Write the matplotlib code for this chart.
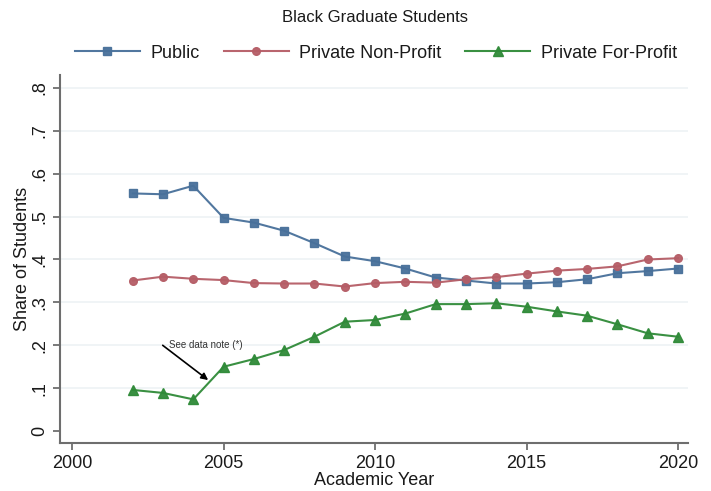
import matplotlib
matplotlib.use("Agg")
import matplotlib.pyplot as plt

plt.rcParams['font.family'] = ['Liberation Sans', 'DejaVu Sans']

years = list(range(2002, 2021))
public = [0.554, 0.552, 0.572, 0.497, 0.486, 0.467, 0.438, 0.407, 0.396,
          0.379, 0.358, 0.351, 0.344, 0.344, 0.347, 0.354, 0.368, 0.373, 0.379]
nonprofit = [0.351, 0.360, 0.355, 0.352, 0.345, 0.344, 0.344, 0.337, 0.345,
             0.348, 0.346, 0.354, 0.359, 0.367, 0.374, 0.378, 0.384, 0.400, 0.403]
forprofit = [0.096, 0.089, 0.074, 0.150, 0.168, 0.189, 0.220, 0.255, 0.259,
             0.274, 0.296, 0.296, 0.298, 0.290, 0.279, 0.269, 0.249, 0.228, 0.220]
series_names = ["Public", "Private Non-Profit", "Private For-Profit"]
xticks = [2000, 2005, 2010, 2015, 2020]
yticks = [0, 0.1, 0.2, 0.3, 0.4, 0.5, 0.6, 0.7, 0.8]
ytick_labels = ["0", ".1", ".2", ".3", ".4", ".5", ".6", ".7", ".8"]

fig = plt.figure(figsize=(7.11, 4.91), dpi=100)
ax = fig.add_axes([60/711, 1-442.7/491, (688-60)/711, (442.7-75)/491])

c_blue = '#48709a'
c_red = '#b55d66'
c_green = '#2f8a38'

ax.plot(years, public, color=c_blue, marker='s', markersize=5.5, lw=1.5,
        label=series_names[0], alpha=0.95)
ax.plot(years, nonprofit, color=c_red, marker='o', markersize=5.5, lw=1.5,
        label=series_names[1], alpha=0.95)
ax.plot(years, forprofit, color=c_green, marker='^', markersize=6.5, lw=1.5,
        label=series_names[2], alpha=0.95)

ax.set_xlim(1999.6, 2020.33)
ax.set_ylim(-0.027, 0.83)
ax.set_xticks(xticks)
ax.set_yticks(yticks)
ax.set_yticklabels(ytick_labels, rotation=90, va='center')
for t in yticks[1:]:
    ax.axhline(t, color='#eef2f5', lw=1.2, zorder=0)

for s in ['top', 'right']:
    ax.spines[s].set_visible(False)
for s in ['left', 'bottom']:
    ax.spines[s].set_color('#6e6e6e')
    ax.spines[s].set_linewidth(1.5)
ax.tick_params(axis='both', direction='out', length=5, width=1.3,
               color='#6e6e6e', labelsize=13, labelcolor='#1a1a1a')

ax.set_xlabel("Academic Year", fontsize=13, labelpad=0, color='#1a1a1a')
ax.set_ylabel("Share of Students", fontsize=13, labelpad=0, color='#1a1a1a')

ax.text(2003.2, 0.200, "See data note (*)", fontsize=7, color='#333333',
        va='center', ha='left')
ax.annotate("", xy=(2004.49, 0.119), xytext=(2002.99, 0.200),
            arrowprops=dict(arrowstyle='-|>', color='black', lw=1.2,
                            mutation_scale=10, shrinkA=0, shrinkB=0))

fig.text(375/711, 1-17/491, "Black Graduate Students", ha='center', va='center',
         fontsize=12, color='#1a1a1a')
fig.legend(loc='center', bbox_to_anchor=(376/711, 1-53/491), ncol=3, frameon=False,
           fontsize=13, handlelength=3.6, handletextpad=0.6, columnspacing=1.3,
           labelcolor='#1a1a1a')

fig.savefig("out.png", dpi=100)
